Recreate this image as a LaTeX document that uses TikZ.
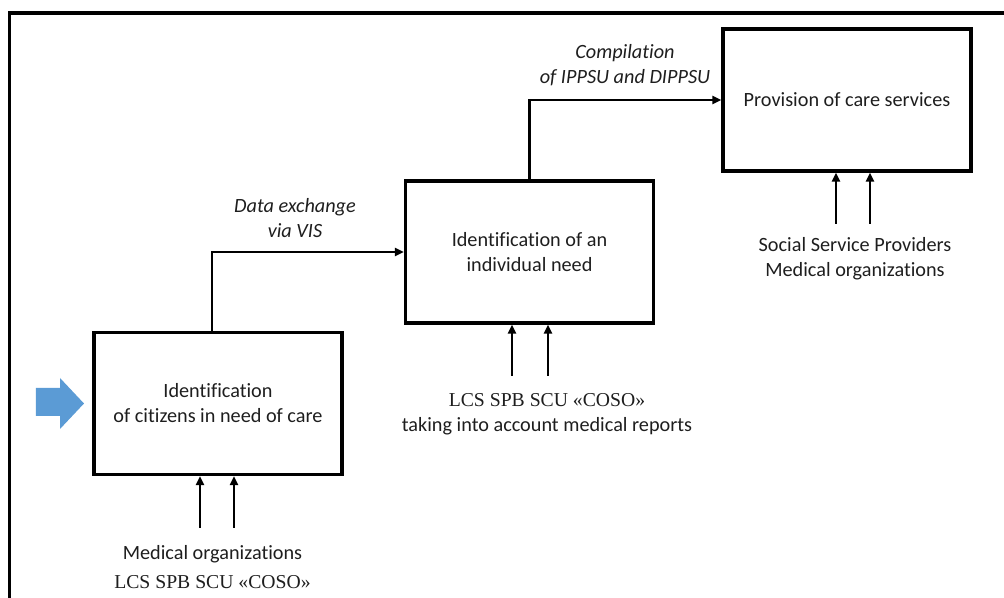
\documentclass[tikz,border=0pt]{standalone}
\usepackage{fontspec}
\setmainfont{Carlito}[Ligatures=NoCommon]
\newfontfamily\timesfont{Liberation Serif}
\usepackage{xcolor}
\usetikzlibrary{arrows.meta}
\definecolor{arrowblue}{RGB}{91,155,213}
\definecolor{inkgray}{RGB}{30,30,30}

\begin{document}
\begin{tikzpicture}[font=\fontsize{14.4}{17.8}\selectfont, text=inkgray,
  stage/.style={draw=black, line width=2.5pt, minimum width=6.2cm, minimum height=3.55cm, inner sep=0pt, align=center},
  flow/.style={line width=2pt, -{Triangle[length=0.22cm,width=0.2cm]}},
  note/.style={align=center, font=\fontsize{14.4}{17.8}\selectfont\itshape},
  source/.style={align=center, font=\fontsize{14.4}{17.8}\selectfont}]
  \useasboundingbox (0,0) rectangle (25.1,14.95);
  \draw[line width=2.6pt] (0.2375,0) -- (0.2375,14.625) -- (25.1,14.625);

  \node[stage] (ident) at (5.45,4.8625) {Identification\\of citizens in need of care};
  \node[stage] (need) at (13.2375,8.65) {Identification of an\\individual need};
  \node[stage] (care) at (21.175,12.45) {Provision of care services};

  \fill[arrowblue] (0.9,5.25) -- (1.5,5.25) -- (1.5,5.5) -- (2.1,4.8625) -- (1.5,4.225) -- (1.5,4.55) -- (0.9,4.55) -- cycle;

  \draw[flow] ([xshift=-0.15cm]ident.north) |- (need.west);
  \draw[flow] (need.north) |- (care.west);
  \node[note] (vis) at (7.375,9.4875) {Data exchange\\via VIS};
  \node[note] (ippsu) at (15.625,13.325) {Compilation\\of IPPSU and DIPPSU};

  \coordinate (i1) at (5.0,1.75);
  \coordinate (i2) at (5.85,1.75);
  \coordinate (n1) at (12.8,5.55);
  \coordinate (n2) at (13.7,5.55);
  \coordinate (c1) at (20.9,9.35);
  \coordinate (c2) at (21.75,9.35);
  \draw[flow] (i1) -- (i1 |- ident.south);
  \draw[flow] (i2) -- (i2 |- ident.south);
  \draw[flow] (n1) -- (n1 |- need.south);
  \draw[flow] (n2) -- (n2 |- need.south);
  \draw[flow] (c1) -- (c1 |- care.south);
  \draw[flow] (c2) -- (c2 |- care.south);

  \node[source] (ident src) at (5.3125,0.775) {Medical organizations\\[3pt]{\timesfont\fontsize{14}{17.8}\selectfont LCS SPB SCU «COSO»}};
  \node[source] (need src) at (13.675,4.5875) {{\timesfont\fontsize{14}{17.8}\selectfont LCS SPB SCU «COSO»}\\taking into account medical reports};
  \node[source] (care src) at (21.375,8.4875) {Social Service Providers\\Medical organizations};
\end{tikzpicture}
\end{document}
